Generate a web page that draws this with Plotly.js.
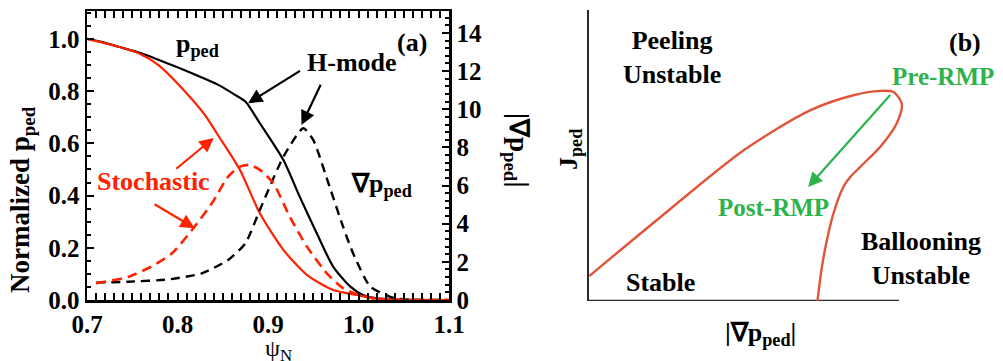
<!DOCTYPE html>
<html>
<head>
<meta charset="utf-8">
<script src="https://cdn.plot.ly/plotly-3.0.1.min.js"></script>
<style>
html,body{margin:0;padding:0;background:#fff;}
#chart svg text, #chart svg tspan { font-family: 'Liberation Serif' !important; }
#chart path.xtick, #chart path.ytick, #chart path.y2tick { stroke:#000 !important; stroke-opacity:1 !important; }
</style>
</head>
<body>
<div id="chart"></div>
<script>
// ---- Panel (a) data ----
const hmodePX = [0.70,0.72,0.735,0.76,0.79,0.808,0.825,0.845,0.864,0.875,0.891,0.917,0.935,0.954,0.972,0.991,1.005,1.02,1.04,1.10];
const hmodePY = [1.00,0.985,0.97,0.945,0.905,0.88,0.855,0.824,0.785,0.76,0.677,0.536,0.396,0.255,0.128,0.051,0.019,0.006,0.002,0.0];

const stochPX = [0.70,0.735,0.757,0.779,0.808,0.830,0.845,0.869,0.891,0.917,0.943,0.972,0.998,1.02,1.10];
const stochPY = [1.00,0.97,0.945,0.90,0.80,0.71,0.63,0.498,0.332,0.192,0.096,0.038,0.019,0.005,0.0];

const hmodeGX = [0.71,0.746,0.79,0.827,0.856,0.875,0.891,0.917,0.939,0.950,0.968,0.983,0.994,1.013,1.035,1.05,1.10];
const hmodeGY = [0.91,0.96,1.08,1.40,2.10,2.97,4.72,7.51,9.0,8.39,5.94,3.84,2.45,0.70,0.17,0.03,0.0];

const stochGX = [0.71,0.746,0.771,0.794,0.816,0.838,0.856,0.869,0.880,0.891,0.906,0.924,0.943,0.965,0.983,1.001,1.02,1.10];
const stochGY = [0.875,1.22,1.75,2.45,3.67,5.07,6.47,6.99,7.08,6.82,6.12,4.37,2.80,1.40,0.61,0.26,0.05,0.0];

const xTick0 = 0.7, xDtick = 0.1, xMinor = 0.01;
const yTick0 = 0, yDtick = 0.2, yMinor = 0.05;
const y2Tick0 = 0, y2Dtick = 2, y2Minor = 0.4;

// ---- Panel (b) data (schematic, arbitrary units) ----
const boundaryX = [0.01,2.29,4.98,7.13,8.53,9.39,9.82,10.09,9.92,9.39,8.74,8.42,8.20,7.88,7.67,7.51,7.37];
const boundaryY = [0.86,2.87,5.17,6.55,7.07,7.22,7.18,6.78,6.09,5.29,4.60,4.25,3.91,2.99,2.07,1.15,0.0];
const axisBX = [0, 10];
const axisBY = [0, 0];
const preRMP = [9.76,7.13];
const postRMP = [7.07,3.92];

const RED = '#ff2200';
const GREEN = '#2eb34c';
const ORANGE = '#e0553a';
const FONT = 'Liberation Serif';

const traces = [
  {x: hmodePX, y: hmodePY, xaxis:'x', yaxis:'y', mode:'lines', showlegend:false, line:{color:'#000', width:2.2, shape:'spline', smoothing:0.7}},
  {x: stochPX, y: stochPY, xaxis:'x', yaxis:'y', mode:'lines', showlegend:false, line:{color:RED, width:2.2, shape:'spline', smoothing:0.7}},
  {x: hmodeGX, y: hmodeGY, xaxis:'x', yaxis:'y2', mode:'lines', showlegend:false, line:{color:'#000', width:2.4, dash:'9px,6px', shape:'spline', smoothing:0.6}},
  {x: stochGX, y: stochGY, xaxis:'x', yaxis:'y2', mode:'lines', showlegend:false, line:{color:RED, width:2.6, dash:'10px,6px', shape:'spline', smoothing:0.6}},
  {x: axisBX, y: axisBY, xaxis:'x2', yaxis:'y3', mode:'lines', showlegend:false, line:{color:'#2a2a2a', width:2.5}},
  {x: boundaryX, y: boundaryY, xaxis:'x2', yaxis:'y3', mode:'lines', showlegend:false, line:{color:ORANGE, width:2.4, shape:'spline', smoothing:0.8}}
];

const tickFont = {family: FONT, size: 25, color:'#000', weight:'bold'};

function ann(text, x, y, size, color, angle, weight) {
  return {text: text, x: x/1003, y: 1 - y/361, xref:'paper', yref:'paper', showarrow:false,
    xanchor:'center', yanchor:'middle', textangle: angle || 0,
    font:{family:FONT, size:size || 26, color:color || '#000', weight: weight || 'bold'}};
}
function arrow(hx, hy, tx, ty, color, xr, yr) {
  return {x:hx, y:hy, ax:tx, ay:ty, xref:xr, yref:yr, axref:xr, ayref:yr, text:'', showarrow:true,
    arrowhead:2, arrowsize:1.3, arrowwidth:2.2, arrowcolor:color, standoff:0};
}

const annotations = [
  ann('p<sub>ped</sub>', 197, 45),
  ann('(a)', 412, 42),
  ann('H-mode', 352, 62),
  ann('\u2207p<sub>ped</sub>', 381, 185),
  ann('Stochastic', 153, 182, 26, RED),
  ann('Normalized p<sub>ped</sub>', 22, 200, 27, '#000', -90),
  ann('|\u2207p<sub>ped</sub>|', 517, 150, 27, '#000', 90),
  ann('\u03c8<sub>N</sub>', 278, 350, 24, '#000', 0, 'normal'),
  arrow(0.878, 0.754, 0.937, 0.881, '#000', 'x', 'y'),
  arrow(0.937, 0.670, 0.959, 0.830, '#000', 'x', 'y'),
  arrow(0.840, 0.621, 0.797, 0.498, RED, 'x', 'y'),
  arrow(0.819, 0.275, 0.773, 0.370, RED, 'x', 'y'),
  ann('Peeling<br>Unstable', 672, 57),
  ann('(b)', 965, 42),
  ann('Pre-RMP', 943, 77, 25, GREEN),
  ann('Post-RMP', 773, 207, 25, GREEN),
  ann('Stable', 660, 282),
  ann('Ballooning<br>Unstable', 921, 258),
  ann('J<sub>ped</sub>', 570, 150, 26, '#000', -90),
  ann('|\u2207p<sub>ped</sub>|', 760, 334),
  arrow(postRMP[0], postRMP[1], preRMP[0], preRMP[1], GREEN, 'x2', 'y3')
];

const layout = {
  width:1003, height:361,
  margin:{l:0, r:0, t:0, b:0},
  paper_bgcolor:'#fff', plot_bgcolor:'#fff',
  showlegend:false,
  font:{family:FONT, color:'#000'},
  xaxis: {domain:[87/1003, 449/1003], range:[0.7,1.1], anchor:'y',
    showline:true, linecolor:'#000', linewidth:2.5, mirror:'allticks', showgrid:false, zeroline:false,
    ticks:'inside', ticklen:7, tickwidth:2, tickcolor:'#000', tick0:xTick0, dtick:xDtick, tickformat:'.1f', tickfont:tickFont,
    minor:{dtick:xMinor, ticks:'inside', ticklen:4, tickcolor:'#000', showgrid:false}},
  yaxis: {domain:[1-300/361, 1-11/361], range:[0,1.107], anchor:'x',
    showline:true, linecolor:'#000', linewidth:2.5, showgrid:false, zeroline:false,
    ticks:'inside', ticklen:7, tickwidth:2, tickcolor:'#000', tick0:yTick0, dtick:yDtick, tickformat:'.1f', tickfont:tickFont,
    minor:{dtick:yMinor, ticks:'inside', ticklen:4, tickcolor:'#000', showgrid:false}},
  yaxis2: {overlaying:'y', side:'right', anchor:'x', range:[0,15.15],
    showline:true, linecolor:'#000', linewidth:2.5, showgrid:false, zeroline:false,
    ticks:'inside', ticklen:7, tickwidth:2, tickcolor:'#000', tick0:y2Tick0, dtick:y2Dtick, tickfont:tickFont,
    minor:{dtick:y2Minor, ticks:'inside', ticklen:4, tickcolor:'#000', showgrid:false}},
  xaxis2: {domain:[589/1003, 914.5/1003], range:[0,10.5], anchor:'y3', showline:false, showticklabels:false,
    ticks:'', showgrid:false, zeroline:false},
  yaxis3: {domain:[1-301/361, 1-10/361], range:[0,10], anchor:'x2', showline:true, linecolor:'#2a2a2a', linewidth:2.5,
    showticklabels:false, ticks:'', showgrid:false, zeroline:false},
  annotations: annotations
};

Plotly.newPlot('chart', traces, layout, {staticPlot:true, displayModeBar:false});
</script>
</body>
</html>
